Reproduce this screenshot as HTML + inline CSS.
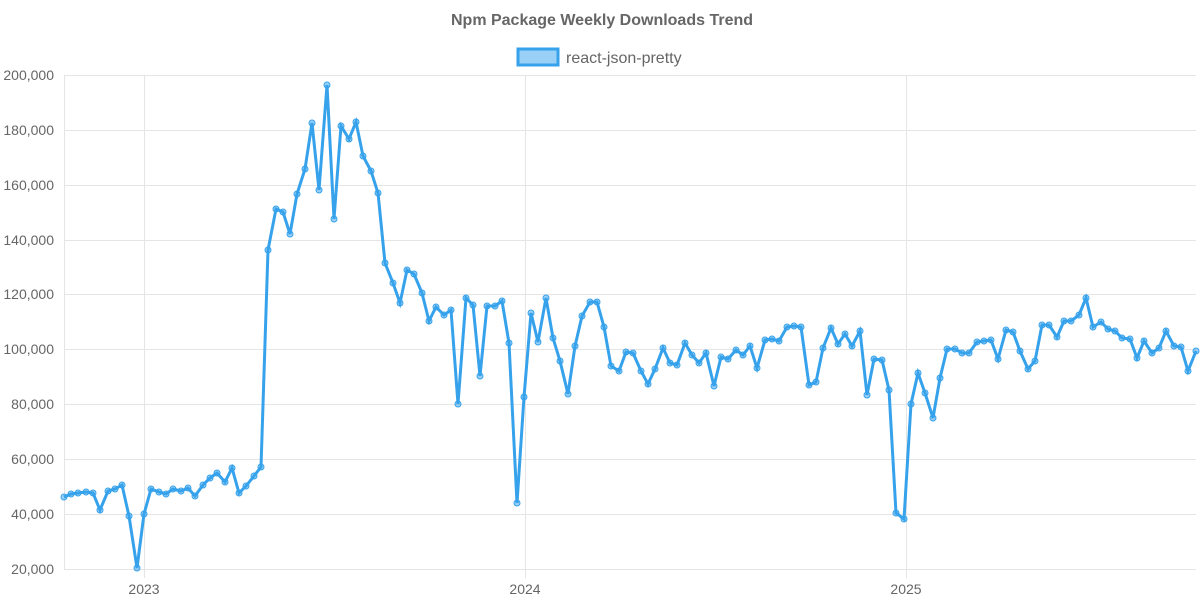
<!DOCTYPE html>
<html><head><meta charset="utf-8"><style>
html,body{margin:0;padding:0;background:#fff;width:1200px;height:600px;overflow:hidden}
text{font-family:"Liberation Sans",sans-serif;fill:#666}
</style></head><body>
<svg width="1200" height="600" xmlns="http://www.w3.org/2000/svg">
<text x="602" y="25" text-anchor="middle" font-size="16" font-weight="bold">Npm Package Weekly Downloads Trend</text>
<rect x="518" y="49" width="40" height="16" fill="rgba(54,162,235,0.5)" stroke="#36a2eb" stroke-width="3"/>
<text x="566" y="63" font-size="16">react-json-pretty</text>
<g stroke="#e5e5e5" stroke-width="1">
<line x1="64" y1="75.5" x2="1196" y2="75.5"/><line x1="64" y1="130.5" x2="1196" y2="130.5"/><line x1="64" y1="185.5" x2="1196" y2="185.5"/><line x1="64" y1="240.5" x2="1196" y2="240.5"/><line x1="64" y1="294.5" x2="1196" y2="294.5"/><line x1="64" y1="349.5" x2="1196" y2="349.5"/><line x1="64" y1="404.5" x2="1196" y2="404.5"/><line x1="64" y1="459.5" x2="1196" y2="459.5"/><line x1="64" y1="514.5" x2="1196" y2="514.5"/><line x1="64" y1="569.5" x2="1196" y2="569.5"/>
<line x1="64.5" y1="75" x2="64.5" y2="569"/><line x1="144.5" y1="75" x2="144.5" y2="578"/><line x1="525.5" y1="75" x2="525.5" y2="578"/><line x1="906.5" y1="75" x2="906.5" y2="578"/>
</g>
<g font-size="14" text-anchor="end">
<text x="54" y="80">200,000</text><text x="54" y="135">180,000</text><text x="54" y="190">160,000</text><text x="54" y="245">140,000</text><text x="54" y="299">120,000</text><text x="54" y="354">100,000</text><text x="54" y="409">80,000</text><text x="54" y="464">60,000</text><text x="54" y="519">40,000</text><text x="54" y="574">20,000</text>
</g>
<g font-size="14" text-anchor="middle">
<text x="144" y="594">2023</text><text x="525" y="594">2024</text><text x="906" y="594">2025</text>
</g>
<polyline id="ln" fill="none" stroke="#36a2eb" stroke-width="3" stroke-linejoin="miter" points="64,497 71,494 78,493 86,492 93,493 100,510 108,491 115,489 122,485 129,516 137,568 144,514 151,489 159,492 166,494 173,489 181,491 188,488 195,496 203,485 210,478 217,473 225,482 232,468 239,493 246,486 254,476 261,467 268,250 276,209 283,212 290,234 297,194 305,169 312,123 319,190 327,85 334,219 341,126 349,139 356,122 363,156 371,171 378,193 385,263 393,283 400,303 407,270 414,274 422,293 429,321 436,307 444,315 451,310 458,404 466,298 473,305 480,376 487,306 495,306 502,301 509,343 517,503 524,397 531,313 538,342 546,298 553,338 560,361 568,394 575,346 582,316 590,302 597,302 604,327 611,366 619,371 626,352 633,353 641,371 648,384 655,369 663,348 670,363 677,365 685,343 692,355 699,363 706,353 714,386 721,357 728,359 736,350 743,355 750,346 757,368 765,340 772,339 779,341 787,327 794,326 801,327 809,385 816,382 823,348 831,328 838,344 845,334 852,346 860,331 867,395 874,359 882,360 889,390 896,513 904,519 911,404 918,373 925,393 933,418 940,378 947,349 955,349 962,353 969,353 977,342 984,341 991,340 998,359 1006,330 1013,332 1020,351 1028,369 1035,361 1042,325 1049,325 1057,337 1064,321 1071,321 1079,315 1086,298 1093,327 1101,322 1108,329 1115,331 1122,338 1130,339 1137,358 1144,341 1152,353 1159,348 1166,331 1174,346 1181,347 1188,371 1196,351"/>
<g id="pts" fill="rgba(54,162,235,0.5)" stroke="#36a2eb" stroke-width="1"></g>
</svg>
<script>
var p=document.getElementById('ln').getAttribute('points').trim().split(/\s+/),g=document.getElementById('pts');
p.forEach(function(s){var a=s.split(',');var c=document.createElementNS('http://www.w3.org/2000/svg','circle');c.setAttribute('cx',a[0]);c.setAttribute('cy',a[1]);c.setAttribute('r','3');g.appendChild(c);});
</script>
</body></html>
